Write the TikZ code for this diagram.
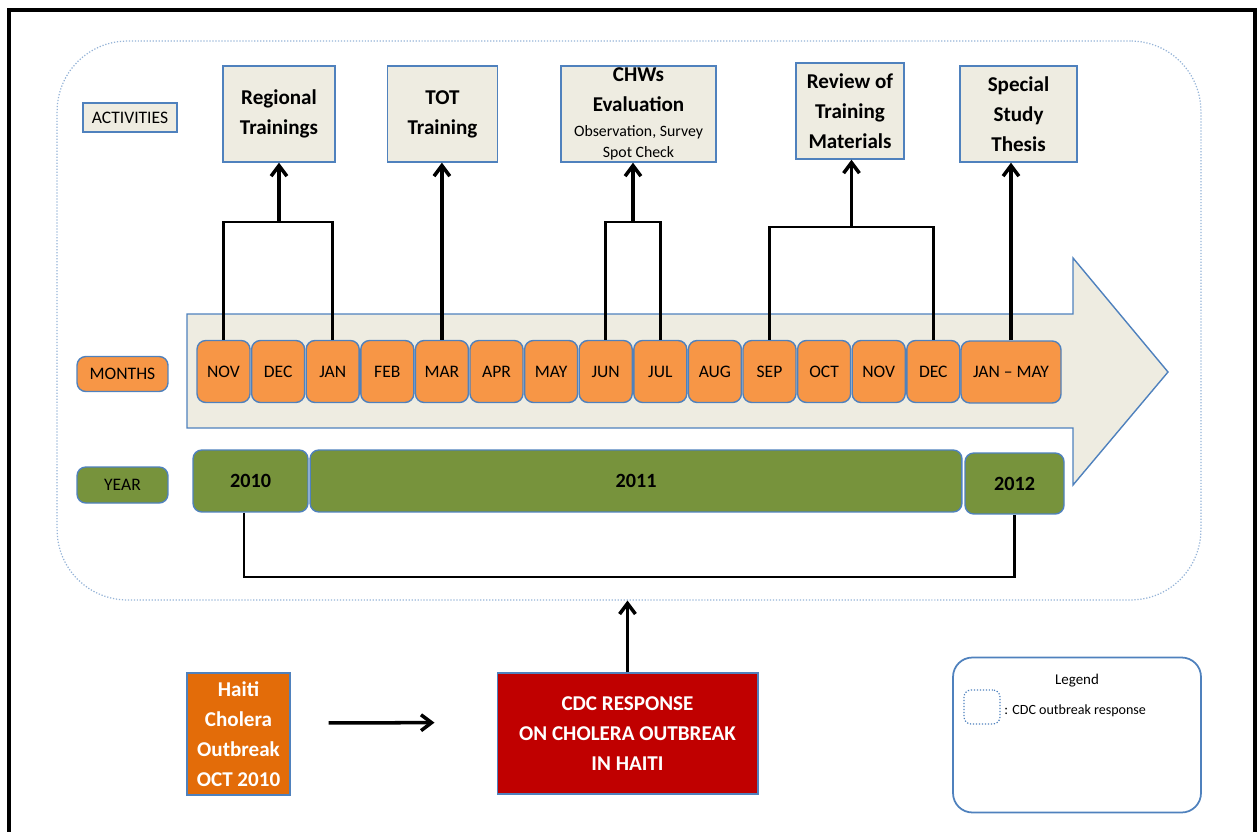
\documentclass[tikz,border=0pt]{standalone}
\usepackage{fontspec}
\setmainfont{Carlito}
\usepackage{tikz}
\usetikzlibrary{arrows.meta}

\definecolor{beige}{HTML}{EEECE1}
\definecolor{bordo}{HTML}{4F81BD}
\definecolor{arancio}{HTML}{F79646}
\definecolor{verde}{HTML}{77933C}
\definecolor{arancioscuro}{HTML}{E36C09}
\definecolor{rosso}{HTML}{C00000}
\definecolor{puntini}{HTML}{95B3D7}

\begin{document}
\begin{tikzpicture}[x=0.02cm,y=-0.02cm,
    >={Straight Barb[length=6pt,width=9pt]},
    attivita/.style={draw=bordo,fill=beige,line width=0.8pt,align=center,inner sep=0pt,
        minimum height=1.92cm,font=\fontsize{12}{17}\selectfont\bfseries},
    etichetta/.style={draw=bordo,fill=beige,line width=0.8pt,minimum width=1.88cm,
        minimum height=0.58cm,font=\fontsize{10}{12}\selectfont},
    mese/.style={draw=bordo,fill=arancio,line width=0.8pt,rounded corners=5pt,inner sep=0pt,
        minimum width=1.06cm,minimum height=1.24cm,font=\fontsize{10}{12}\selectfont},
    anno/.style={draw=bordo,fill=verde,line width=0.8pt,rounded corners=5pt,inner sep=0pt,
        minimum height=1.24cm,font=\fontsize{11.5}{14}\selectfont\bfseries},
    evento/.style={draw=bordo,line width=0.6pt,align=center,inner sep=0pt,text=white,
        font=\fontsize{12}{17}\selectfont\bfseries},
    freccia/.style={->,line width=2pt},
    linea/.style={line width=1.4pt}]
\useasboundingbox (0,0) rectangle (1260,831);
%cornice
\draw[line width=2.3pt] (9,850) -- (9,10) -- (1255,10) -- (1255,850);
%riquadro
\node[draw=puntini,densely dotted,line width=0.7pt,rounded corners=40pt,
    minimum width=22.88cm,minimum height=11.18cm] (cdcresp) at (629,320.5) {};
%attivita
\node[etichetta] (act) at (130,117.5) {ACTIVITIES};
\node[attivita,minimum width=2.24cm] (reg) at (279,114) {Regional\\Trainings};
\node[attivita,minimum width=2.2cm] (tot) at (442.5,114) {TOT\\Training};
\node[attivita,minimum width=3.1cm] (chw) at (638.5,114) {CHWs\\Evaluation\\[-3pt]
    \fontsize{9}{11}\selectfont\mdseries Observation, Survey\\[-5pt]
    \fontsize{9}{11}\selectfont\mdseries Spot Check};
\node[attivita,minimum width=2.16cm] (rev) at (850,111) {Review of\\Training\\Materials};
\node[attivita,minimum width=2.34cm] (spe) at (1018.5,114) {Special\\Study\\Thesis};
%freccia grande
\draw[draw=bordo,fill=beige,line width=0.8pt] (187,314) -- (1073,314) -- (1073,258)
    -- (1168,372) -- (1073,485) -- (1073,428) -- (187,428) -- cycle;
%mesi
\foreach \m [count=\i] in {NOV,DEC,JAN,FEB,MAR,APR,MAY,JUN,JUL,AUG,SEP,OCT,NOV,DEC}
    \node[mese] (m\i) at ({223.5+(\i-1)*54.6},371.5) {\m};
\node[mese,minimum width=2cm] (m15) at (1011,372) {JAN – MAY};
%anni
\node[anno,minimum width=2.3cm] (y2010) at (250.5,481) {2010};
\node[anno,minimum width=13.04cm] (y2011) at (636,481) {2011};
\node[anno,minimum width=1.98cm,minimum height=1.22cm] (y2012) at (1014.5,483.5) {2012};
%etichette
\node[mese,minimum width=1.82cm,minimum height=0.7cm] (mesi) at (122.5,374) {MONTHS};
\node[anno,minimum width=1.82cm,minimum height=0.72cm,font=\fontsize{10}{12}\selectfont] (anni) at (122.5,485) {YEAR};
%collegamenti
\coordinate (c1) at (279,222);
\draw[linea] (m1.north) |- (c1) -| (m3.north);
\draw[freccia] (c1) -- (reg.south);
\draw[freccia] (m5.north) -- (m5.north |- tot.south);
\coordinate (c2) at (633,222);
\draw[linea] (m8.north) |- (c2) -| (m9.north);
\draw[freccia] (c2) -- (c2 |- chw.south);
\coordinate (c3) at (851.5,227);
\draw[linea] (m11.north) |- (c3) -| (m14.north);
\draw[freccia] (c3) -- (c3 |- rev.south);
\draw[freccia] (m15.north) -- (m15.north |- spe.south);
\coordinate (c4) at (627,577);
\draw[linea] ([xshift=-0.13cm]y2010.south) |- (c4) -| (y2012.south);
%in basso
\node[evento,fill=arancioscuro,minimum width=2.06cm,minimum height=2.44cm] (haiti) at (238.5,734)
    {Haiti\\Cholera\\Outbreak\\OCT 2010};
\node[evento,fill=rosso,minimum width=5.22cm,minimum height=2.42cm] (cdc) at (627.5,733.5)
    {CDC RESPONSE\\ON CHOLERA OUTBREAK\\IN HAITI};
\draw[freccia] (cdc.north) -- (cdc.north |- cdcresp.south);
\draw[freccia,shorten <=0.76cm,shorten >=1.24cm] ([yshift=0.22cm]haiti.east) -- ([yshift=0.22cm]cdc.west);
%legenda
\node[draw=bordo,line width=1pt,rounded corners=11pt,minimum width=4.96cm,minimum height=3.1cm] (leg) at (1077,735) {};
\node[font=\fontsize{8.5}{10}\selectfont] (legt) at (1077,681) {Legend};
\node[draw=bordo,densely dotted,line width=0.7pt,rounded corners=4pt,minimum width=0.72cm,
    minimum height=0.68cm] (legq) at (982,707) {};
\node[anchor=west,inner sep=0pt,font=\fontsize{8}{10}\selectfont] (legv) at (1004,711) {: CDC outbreak response};
\end{tikzpicture}
\end{document}
